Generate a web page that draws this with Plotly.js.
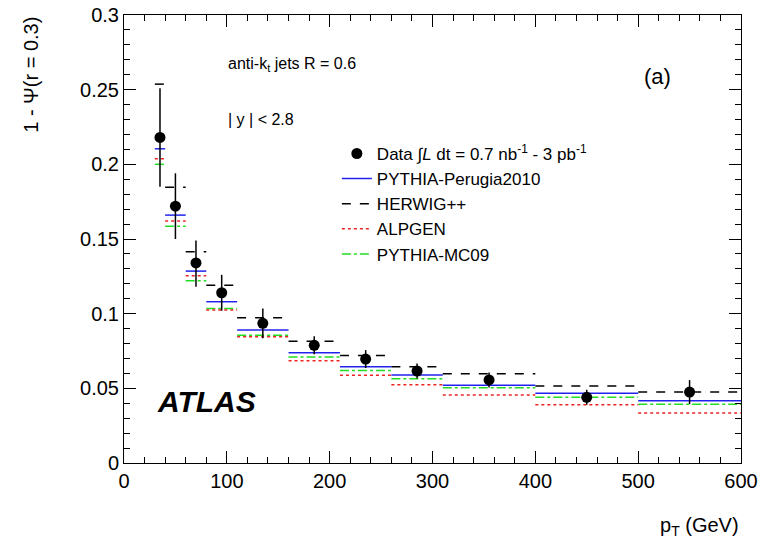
<!DOCTYPE html>
<html>
<head>
<script src="https://cdn.plot.ly/plotly-3.0.1.min.js"></script>
<style>body{margin:0;background:#fff}</style>
</head>
<body>
<div id="graph" style="width:779px;height:540px"></div>
<script>
const binLo = [30, 40, 60, 80, 110, 160, 210, 260, 310, 400, 500];
const binHi = [40, 60, 80, 110, 160, 210, 260, 310, 400, 500, 600];
const dataX = [35, 50, 70, 95, 135, 185, 235, 285, 355, 450, 550];
const dataY = [0.218, 0.172, 0.134, 0.114, 0.0935, 0.0788, 0.0696, 0.0616, 0.0556, 0.044, 0.0475];
const errUp = [0.033, 0.022, 0.015, 0.012, 0.010, 0.006, 0.006, 0.005, 0.005, 0.005, 0.008];
const errDn = [0.033, 0.022, 0.016, 0.012, 0.010, 0.006, 0.006, 0.005, 0.005, 0.005, 0.008];
const perugia = [0.2104, 0.166, 0.1285, 0.108, 0.089, 0.0738, 0.0645, 0.0589, 0.052, 0.0467, 0.0417];
const herwig = [0.2537, 0.1847, 0.1414, 0.119, 0.0973, 0.0815, 0.072, 0.0645, 0.0598, 0.0515, 0.0475];
const alpgen = [0.2037, 0.162, 0.1254, 0.1024, 0.0845, 0.0685, 0.0587, 0.0524, 0.0455, 0.039, 0.0335];
const mc09 = [0.200, 0.1586, 0.122, 0.1035, 0.0855, 0.071, 0.062, 0.0564, 0.0504, 0.044, 0.0393];

function steps(vals) {
  const x = [], y = [];
  for (let i = 0; i < vals.length; i++) {
    x.push(binLo[i], binHi[i], null);
    y.push(vals[i], vals[i], null);
  }
  return {x, y};
}

function mcTrace(vals, name, color, dash, width) {
  const s = steps(vals);
  return {x: s.x, y: s.y, mode: 'lines', name: name, connectgaps: false,
    line: {color: color, dash: dash, width: width}};
}

const traces = [
  mcTrace(mc09, 'PYTHIA-MC09', '#22dd22', 'dashdot', 1.5),
  mcTrace(alpgen, 'ALPGEN', '#ee2222', 'dot', 1.5),
  mcTrace(herwig, 'HERWIG++', 'black', 'dash', 1.5),
  mcTrace(perugia, 'PYTHIA-Perugia2010', '#2222ee', 'solid', 1.5),
  {
    x: dataX, y: dataY, mode: 'markers', name: 'Data ∫<i>L</i> dt = 0.7 nb<sup>-1</sup> - 3 pb<sup>-1</sup>',
    marker: {color: 'black', size: 11},
    error_y: {type: 'data', symmetric: false, array: errUp, arrayminus: errDn, color: 'black', thickness: 1.5, width: 0}
  }
];

const axisStyle = {
  showgrid: false, zeroline: false, showline: true, mirror: 'ticks', linecolor: 'black', linewidth: 1,
  ticks: 'inside', ticklen: 12, tickcolor: 'black',
  tickfont: {size: 20, color: 'black'}
};

const layout = {
  width: 779, height: 540,
  margin: {l: 124, r: 38, t: 15, b: 77},
  font: {family: 'Liberation Sans, Arial, sans-serif', color: 'black'},
  plot_bgcolor: 'white', paper_bgcolor: 'white',
  xaxis: Object.assign({}, axisStyle, {range: [0, 600], dtick: 100, minor: {ticks: 'inside', ticklen: 6, tickcolor: 'black', dtick: 20}}),
  yaxis: Object.assign({}, axisStyle, {range: [0, 0.3], dtick: 0.05, minor: {ticks: 'inside', ticklen: 6, tickcolor: 'black', dtick: 0.01}}),
  showlegend: true,
  legend: {x: 0.345, y: 0.73, xanchor: 'left', yanchor: 'top', traceorder: 'reversed',
    bgcolor: 'rgba(0,0,0,0)', font: {size: 17}, tracegroupgap: 4},
  annotations: [
    {xref: 'paper', yref: 'paper', x: 1, y: -0.11, xanchor: 'right', yanchor: 'top', showarrow: false,
      text: 'p<sub>T</sub> (GeV)', font: {size: 20}},
    {xref: 'paper', yref: 'paper', x: -0.13, y: 1, xanchor: 'right', yanchor: 'top', textangle: -90, showarrow: false,
      text: '1 - Ψ(r = 0.3)', font: {size: 20}},
    {xref: 'paper', yref: 'paper', x: 0.165, y: 0.915, xanchor: 'left', showarrow: false,
      text: 'anti-k<sub>t</sub> jets R = 0.6', font: {size: 16}},
    {xref: 'paper', yref: 'paper', x: 0.165, y: 0.79, xanchor: 'left', showarrow: false,
      text: '| y | < 2.8', font: {size: 16}},
    {xref: 'paper', yref: 'paper', x: 0.84, y: 0.895, xanchor: 'left', showarrow: false,
      text: '(a)', font: {size: 22}},
    {xref: 'paper', yref: 'paper', x: 0.05, y: 0.095, xanchor: 'left', showarrow: false,
      text: '<b><i>ATLAS</i></b>', font: {size: 30}}
  ]
};

Plotly.newPlot('graph', traces, layout, {displayModeBar: false});
</script>
</body>
</html>
